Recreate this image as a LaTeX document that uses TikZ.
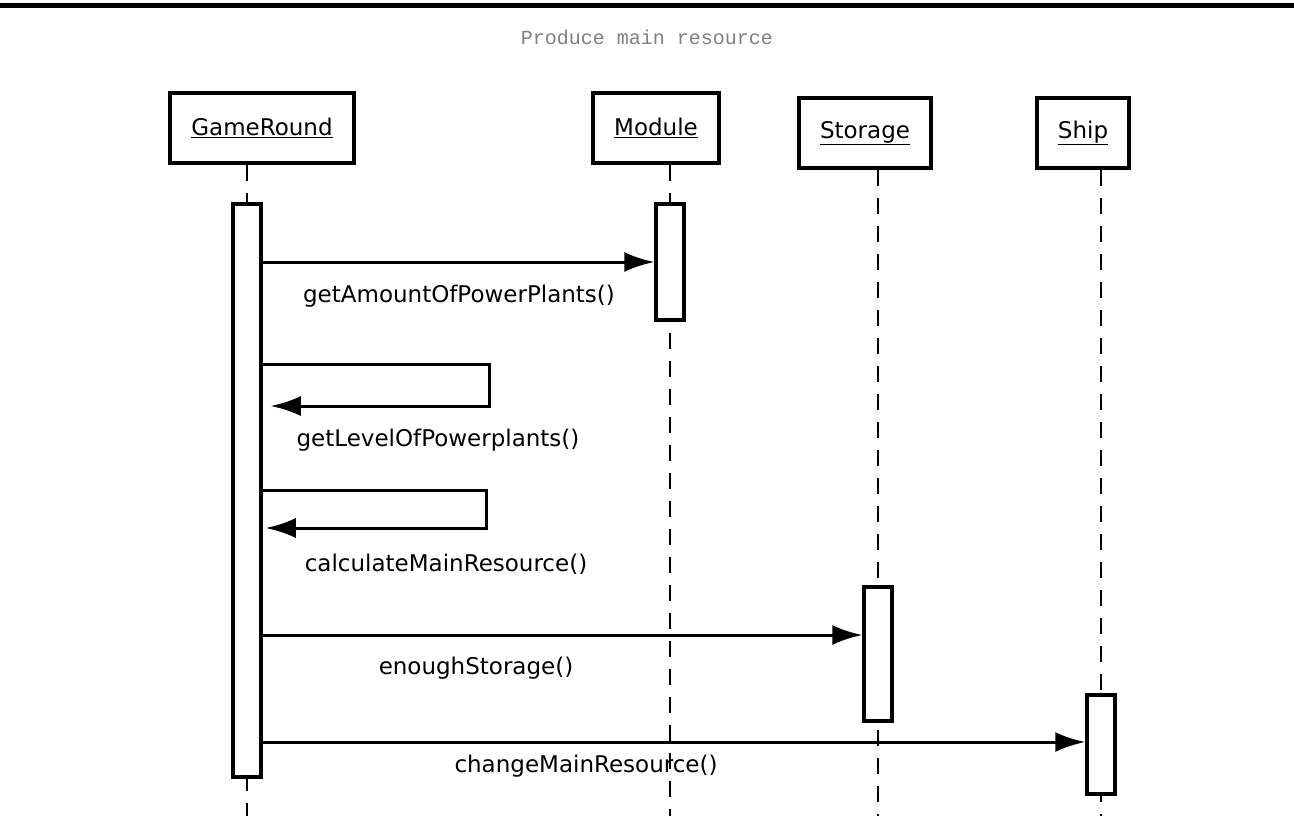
\documentclass[tikz,border=0pt]{standalone}
\usepackage{fontspec}
\setmainfont{DejaVu Sans}
\newfontfamily\titlefont{Liberation Mono}
\usetikzlibrary{arrows.meta}

\begin{document}
\begin{tikzpicture}[x=1pt,y=-1pt,
   head/.style={draw,line width=4pt,minimum height=70pt,inner xsep=21pt,font=\fontsize{23}{27}\selectfont},
   act/.style={draw,line width=3.5pt,fill=white,minimum width=28pt,anchor=north},
   life/.style={line width=1.5pt,dash pattern=on 16pt off 12pt},
   msg/.style={line width=3pt,-{Latex[length=30pt,width=20pt]}},
   lbl/.style={font=\fontsize{23}{27}\selectfont}]
   \useasboundingbox (0,0) rectangle (1294,816);
   \draw[line width=5pt] (0,5.5) -- (1294,5.5);
   \node [font=\titlefont\fontsize{20}{24}\selectfont,text=gray] (title) at (647,37) {Produce main resource};

   \node [head] (gr) at (262,128) {\underline{GameRound}};
   \node [head] (mod) at (656,128) {\underline{Module}};
   \node [head] (sto) at (865,133) {\underline{Storage}};
   \node [head] (ship) at (1083,133) {\underline{Ship}};
   \coordinate (bottom) at (0,816);

   \draw[life] (247,0 |- gr.south) -- (247,202) (247,775) -- (247,0 |- bottom);
   \draw[life] (670,0 |- mod.south) -- (670,0 |- bottom);
   \draw[life] (878,0 |- sto.south) -- (878,0 |- bottom);
   \draw[life] (1101,0 |- ship.south) -- (1101,0 |- bottom);

   \node [act,minimum height=573pt] (grA) at (247,202) {};
   \node [act,minimum height=116pt] (modA) at (670,202) {};
   \node [act,minimum height=134pt] (stoA) at (878,585) {};
   \node [act,minimum height=99pt] (shipA) at (1101,693) {};

   \coordinate (m1) at (0,262);
   \coordinate (s1) at (489,364);
   \coordinate (s1b) at (489,406);
   \coordinate (s2) at (486,490);
   \coordinate (s2b) at (486,528);
   \coordinate (m4) at (0,635);
   \coordinate (m5) at (0,742);

   \draw[msg] (grA.east |- m1) -- (modA.west |- m1);
   \draw[msg] (grA.east |- s1) -- (s1) -- (s1b) -- ([xshift=8pt]grA.east |- s1b);
   \draw[msg] (grA.east |- s2) -- (s2) -- (s2b) -- ([xshift=3pt]grA.east |- s2b);
   \draw[msg] (grA.east |- m4) -- (stoA.west |- m4);
   \draw[msg] (grA.east |- m5) -- (shipA.west |- m5);

   \node [lbl] (l1) at (459,296) {getAmountOfPowerPlants()};
   \node [lbl] (l2) at (438,440) {getLevelOfPowerplants()};
   \node [lbl] (l3) at (446,564) {calculateMainResource()};
   \node [lbl] (l4) at (476,668) {enoughStorage()};
   \node [lbl] (l5) at (586,766) {changeMainResource()};
\end{tikzpicture}
\end{document}
